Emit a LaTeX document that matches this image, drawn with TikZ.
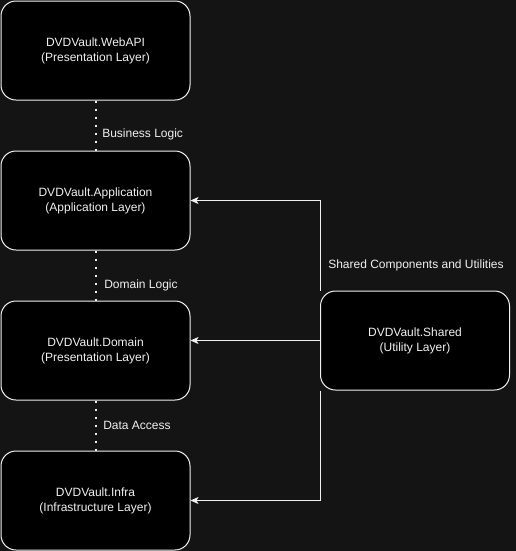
\documentclass[tikz,border=0pt]{standalone}
\usepackage{fontspec}
\setmainfont{Liberation Sans}
\usetikzlibrary{arrows.meta}
\usetikzlibrary{positioning}
\definecolor{bgcol}{HTML}{141414}
\definecolor{txtcol}{HTML}{F0F0F0}

\begin{document}
\begin{tikzpicture}[
	x=0.75pt, y=-0.75pt,
	font=\fontsize{9pt}{11.25pt}\selectfont,
	text=txtcol
]
\tikzset{
    layer/.style = {rectangle, rounded corners=11.25pt, draw=txtcol, line width=0.75pt,
        fill=black, align=center, inner sep=0pt,
        minimum width=141.75pt, minimum height=74.25pt},
    edged/.style = {-, draw=txtcol, line width=1.5pt, dash pattern=on 1.5pt off 4.5pt},
    edgea/.style = {-{Stealth[length=6pt,width=5.25pt,inset=1.5pt]}, draw=txtcol, line width=0.75pt},
    lbl/.style = {anchor=west, inner sep=0pt}
}
\fill[bgcol] (0,0) rectangle (516,551);
\useasboundingbox (0,0) rectangle (516,551);
%
\node[layer] at (95.5,50.5) (webapi) {DVDVault.WebAPI\\(Presentation Layer)};
\node[layer] at (95.5,200.5) (app) {DVDVault.Application\\(Application Layer)};
\node[layer] at (95.5,350.5) (domain) {DVDVault.Domain\\(Presentation Layer)};
\node[layer] at (95.5,500.5) (infra) {DVDVault.Infra\\(Infrastructure Layer)};
\node[layer] at (415,340.5) (shared) {DVDVault.Shared\\(Utility Layer)};
%
\draw[edged] (webapi) -- (app);
\draw[edged] (app) -- (domain);
\draw[edged] (domain) -- (infra);
\node[lbl] at (102,134) (bl) {Business Logic};
\node[lbl] at (104,285) (dl) {Domain Logic};
\node[lbl] at (103,425) (da) {Data Access};
%
\draw[edgea] (shared.north west) |- (app.east);
\draw[edgea] (shared.west) -- (shared.west -| domain.east);
\draw[edgea] (shared.south west) |- (infra.east);
\node[lbl] at (328,265) (sc) {Shared Components and Utilities};
\end{tikzpicture}
\end{document}
